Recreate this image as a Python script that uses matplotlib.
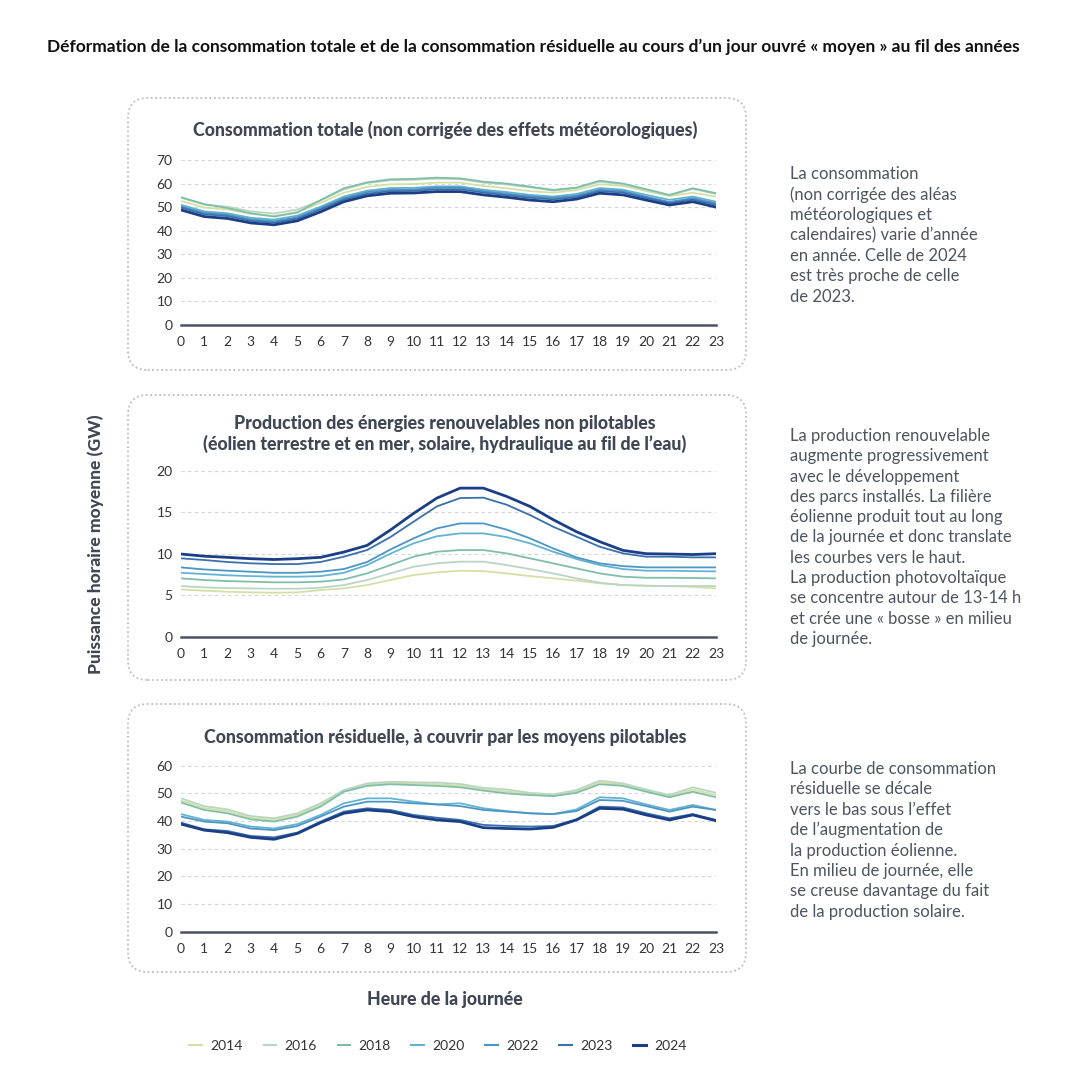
import matplotlib
matplotlib.use("Agg")
import matplotlib.pyplot as plt
from matplotlib.patches import FancyBboxPatch
from matplotlib.lines import Line2D

plt.rcParams["font.family"] = ["Lato", "DejaVu Sans"]

hours = list(range(24))
years = ["2014", "2016", "2018", "2020", "2022", "2023", "2024"]
colors = ["#d5e0a6", "#b9d6c4", "#7fbfa8", "#62b3d3", "#4d95c4", "#3a70ad", "#1b3f86"]

# consommation totale (GW)
conso = {
    "2014": [52.6, 49.8, 49.0, 47.1, 46.3, 48.0, 51.8, 56.1, 58.6, 59.7, 59.8, 60.4,
             60.4, 59.0, 58.0, 56.8, 56.1, 57.2, 59.7, 59.0, 56.8, 54.7, 56.1, 54.5],
    "2016": [54.0, 51.0, 50.2, 48.2, 47.3, 49.0, 52.8, 57.5, 60.2, 61.4, 61.6, 62.1,
             61.9, 60.4, 59.6, 58.4, 57.0, 58.0, 60.8, 59.7, 57.3, 55.0, 57.7, 55.6],
    "2018": [54.2, 51.3, 49.6, 47.4, 46.0, 47.7, 53.0, 58.0, 60.5, 61.8, 62.0, 62.5,
             62.2, 60.8, 60.0, 58.7, 57.3, 58.3, 61.2, 60.0, 57.6, 55.2, 58.0, 55.9],
    "2020": [51.0, 48.2, 47.4, 45.5, 44.7, 46.4, 50.2, 54.5, 57.0, 58.1, 58.2, 58.8,
             58.8, 57.4, 56.4, 55.2, 54.5, 55.6, 58.1, 57.4, 55.2, 53.1, 54.5, 52.3],
    "2022": [50.3, 47.6, 46.8, 44.8, 44.0, 45.7, 49.6, 53.8, 56.4, 57.4, 57.5, 58.3,
             58.3, 56.8, 55.7, 54.6, 53.9, 54.9, 57.4, 56.8, 54.4, 52.2, 53.8, 51.6],
    "2023": [49.8, 47.0, 46.2, 44.2, 43.4, 45.1, 49.0, 53.2, 55.7, 56.8, 56.9, 57.6,
             57.6, 56.2, 55.1, 54.0, 53.3, 54.3, 56.8, 56.2, 53.9, 51.7, 53.2, 51.0],
    "2024": [48.8, 46.0, 45.2, 43.3, 42.5, 44.2, 48.0, 52.3, 54.8, 55.9, 56.0, 56.6,
             56.6, 55.2, 54.2, 53.0, 52.3, 53.4, 55.9, 55.2, 53.0, 50.9, 52.3, 50.0],
}

# production renouvelable non pilotable (GW)
prod = {
    "2014": [5.70, 5.54, 5.42, 5.34, 5.30, 5.34, 5.62, 5.82, 6.22, 6.83, 7.43, 7.75,
             7.95, 7.90, 7.63, 7.30, 7.03, 6.75, 6.43, 6.22, 6.14, 6.10, 6.00, 5.82],
    "2016": [6.10, 5.94, 5.86, 5.82, 5.78, 5.78, 5.90, 6.22, 6.83, 7.63, 8.43, 8.84,
             9.04, 9.04, 8.63, 8.15, 7.63, 7.03, 6.50, 6.22, 6.14, 6.10, 6.10, 6.10],
    "2018": [7.03, 6.83, 6.70, 6.63, 6.55, 6.55, 6.63, 6.90, 7.63, 8.63, 9.64, 10.24,
             10.44, 10.44, 10.04, 9.44, 8.84, 8.23, 7.63, 7.23, 7.10, 7.10, 7.07, 7.03],
    "2020": [7.70, 7.55, 7.40, 7.30, 7.23, 7.23, 7.30, 7.70, 8.63, 10.0, 11.25, 12.1,
             12.45, 12.45, 12.0, 11.25, 10.24, 9.36, 8.63, 8.15, 7.95, 7.95, 7.90, 7.87],
    "2022": [8.35, 8.10, 7.95, 7.83, 7.70, 7.70, 7.83, 8.15, 9.00, 10.5, 11.85, 13.05,
             13.65, 13.65, 12.9, 11.85, 10.64, 9.56, 8.84, 8.50, 8.35, 8.35, 8.35, 8.35],
    "2023": [9.44, 9.24, 9.00, 8.84, 8.75, 8.75, 9.00, 9.64, 10.44, 12.0, 13.86, 15.7,
             16.7, 16.75, 15.9, 14.66, 13.25, 12.05, 10.84, 10.04, 9.64, 9.64, 9.56, 9.56],
    "2024": [9.96, 9.70, 9.56, 9.40, 9.30, 9.40, 9.56, 10.2, 11.0, 12.85, 14.86, 16.7,
             17.9, 17.9, 16.9, 15.7, 14.1, 12.65, 11.45, 10.4, 10.0, 9.96, 9.90, 10.0],
}

# consommation residuelle (GW)
resid = {
    "2014": [47.4, 44.7, 43.5, 41.2, 40.4, 42.2, 45.8, 50.9, 53.1, 53.7, 53.5, 53.3,
             52.8, 51.5, 50.7, 49.8, 49.3, 50.7, 54.0, 53.1, 51.0, 49.0, 51.4, 49.4],
    "2016": [48.2, 45.4, 44.2, 41.8, 41.0, 42.8, 46.4, 51.2, 53.6, 54.2, 54.0, 53.9,
             53.4, 52.0, 51.4, 50.2, 49.6, 51.2, 54.6, 53.6, 51.4, 49.4, 52.2, 50.2],
    "2018": [46.7, 44.0, 42.8, 40.6, 39.8, 41.6, 45.2, 50.6, 52.7, 53.3, 53.0, 52.7,
             52.2, 51.0, 50.0, 49.4, 49.0, 50.2, 53.3, 52.7, 50.6, 48.6, 50.6, 48.6],
    "2020": [42.5, 40.4, 39.8, 38.0, 37.3, 38.9, 42.2, 46.4, 48.2, 48.2, 47.0, 46.0,
             46.4, 44.6, 43.6, 42.8, 42.5, 44.2, 48.6, 48.2, 46.0, 44.0, 45.8, 44.0],
    "2022": [41.6, 39.8, 39.2, 37.3, 36.7, 38.2, 41.6, 45.2, 47.0, 47.0, 46.4, 46.0,
             45.4, 44.0, 43.4, 42.8, 42.5, 43.6, 47.6, 47.3, 45.4, 43.4, 45.2, 44.0],
    "2023": [39.4, 37.0, 36.4, 34.6, 34.1, 35.8, 39.8, 43.4, 44.6, 44.0, 42.2, 41.2,
             40.4, 38.6, 38.2, 38.0, 38.2, 40.6, 45.2, 44.9, 42.8, 41.0, 42.5, 40.4],
    "2024": [38.9, 36.7, 35.8, 34.1, 33.4, 35.5, 39.4, 42.8, 44.0, 43.4, 41.6, 40.4,
             39.8, 37.6, 37.3, 37.1, 37.7, 40.4, 44.6, 44.3, 42.2, 40.4, 42.2, 40.1],
}

titles = [
    "Consommation totale (non corrigée des effets météorologiques)",
    "Production des énergies renouvelables non pilotables\n"
    "(éolien terrestre et en mer, solaire, hydraulique au fil de l’eau)",
    "Consommation résiduelle, à couvrir par les moyens pilotables",
]
notes = [
    "La consommation\n(non corrigée des aléas\nmétéorologiques et\ncalendaires) varie d’année\n"
    "en année. Celle de 2024\nest très proche de celle\nde 2023.",
    "La production renouvelable\naugmente progressivement\navec le développement\n"
    "des parcs installés. La filière\néolienne produit tout au long\nde la journée et donc translate\n"
    "les courbes vers le haut.\nLa production photovoltaïque\nse concentre autour de 13-14 h\n"
    "et crée une « bosse » en milieu\nde journée.",
    "La courbe de consommation\nrésiduelle se décale\nvers le bas sous l’effet\n"
    "de l’augmentation de\nla production éolienne.\nEn milieu de journée, elle\n"
    "se creuse davantage du fait\nde la production solaire.",
]
datasets = [conso, prod, resid]
ymax = [70, 20, 60]
ystep = [10, 5, 10]

W = H = 1090
dark = "#3f4654"
text_grey = "#4d5560"

fig = plt.figure(figsize=(W / 100, H / 100), dpi=100)
fig.patch.set_facecolor("white")


def fx(px):
    return px / W


def fy(py):
    return 1 - py / H


fig.text(fx(533), fy(47), "Déformation de la consommation totale et de la consommation résiduelle "
         "au cours d’un jour ouvré « moyen » au fil des années",
         ha="center", va="center", fontsize=12.5, fontweight="bold", color="#111111")

# pixel layout of each panel: box top/bottom, axis top (ymax) / zero, title y, note y
boxes = [(98, 370), (395, 680), (704, 972)]
axes_px = [(160, 325), (470.7, 636.7), (765.7, 931.7)]
title_y = [130, 434, 738]
note_y = [166, 428, 761]

for i in range(3):
    b_top, b_bot = boxes[i]
    box = FancyBboxPatch((fx(128), fy(b_bot)), fx(746 - 128), (b_bot - b_top) / H,
                         boxstyle="round,pad=0,rounding_size=0.018",
                         transform=fig.transFigure, facecolor="none",
                         edgecolor="#bdbdbd", linestyle=(0, (1, 1.5)), linewidth=1.3)
    fig.add_artist(box)

    a_top, a_bot = axes_px[i]
    ax = fig.add_axes([fx(181), fy(a_bot), fx(716 - 181), (a_bot - a_top) / H])
    data = datasets[i]
    for yr, col in zip(years, colors):
        lw = 2.0 if yr == "2024" else 1.3
        ax.plot(hours, data[yr], color=col, lw=lw, zorder=3 if yr == "2024" else 2,
                solid_capstyle="round")
    ax.set_xlim(0, 23)
    ax.set_ylim(0, ymax[i])
    ax.set_xticks(hours)
    ax.set_yticks(range(0, ymax[i] + 1, ystep[i]))
    ax.grid(axis="y", linestyle=(0, (3, 3)), color="#d4d4d4", linewidth=0.8)
    ax.axhline(0, color="#4a5363", lw=1.8, zorder=4, clip_on=False)
    for s in ax.spines.values():
        s.set_visible(False)
    ax.tick_params(length=0, labelsize=10, colors="#333333", pad=6)
    ax.tick_params(axis="x", pad=8)
    ax.set_facecolor("none")

    fig.text(fx(445), fy(title_y[i]), titles[i], ha="center", va="center",
             fontsize=12.8, fontweight="black", color=dark, linespacing=1.2)
    fig.text(fx(790), fy(note_y[i]), notes[i], ha="left", va="top",
             fontsize=12, color=text_grey, linespacing=1.33)

fig.text(fx(96), fy(544), "Puissance horaire moyenne (GW)", rotation=90,
         ha="center", va="center", fontsize=12.6, fontweight="black", color=dark)
fig.text(fx(445), fy(1000), "Heure de la journée", ha="center", va="center",
         fontsize=12.8, fontweight="black", color=dark)

handles = [Line2D([0], [0], color=c, lw=2.2 if y == "2024" else 1.5) for y, c in zip(years, colors)]
fig.legend(handles, years, loc="center", bbox_to_anchor=(fx(438), fy(1046)), ncol=7,
           frameon=False, fontsize=10, handlelength=0.9, columnspacing=1.5,
           handletextpad=0.6, labelcolor="#333333")

fig.savefig("out.png", dpi=100, facecolor="white")
